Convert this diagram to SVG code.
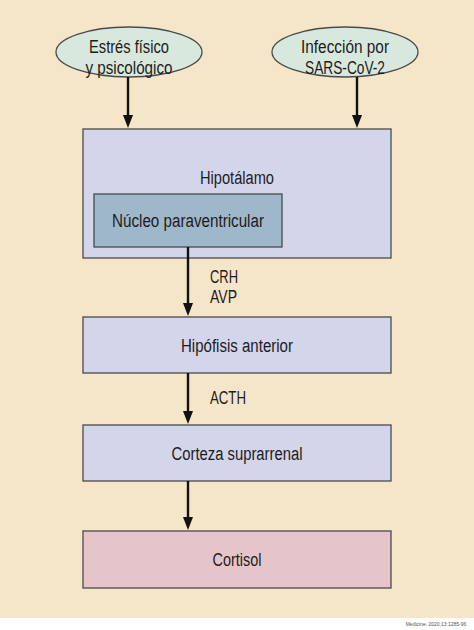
<svg xmlns="http://www.w3.org/2000/svg" width="474" height="630" viewBox="0 0 474 630">
<style>
text{font-family:"Liberation Sans",Arial,sans-serif;font-size:18px;fill:#1e1b1c;text-anchor:middle}
.lbl{text-anchor:start}
.box{fill:#d3d5ea;stroke:#4a4a4a;stroke-width:1.3}
.ell{fill:#d8e8dc;stroke:#4a4a4a;stroke-width:1.3}
.shaft{stroke:#111;stroke-width:2.4}
.head{fill:#111}
</style>
<rect x="0" y="0" width="474" height="618" fill="#f5e5c9"/>
<rect x="0" y="618" width="474" height="12" fill="#ffffff"/>
<text x="436" y="626" style="font-size:5px;fill:#555">Medicine. 2020;13:1285-96</text>
<g id="n-estres">
<ellipse class="ell" cx="129" cy="52" rx="73" ry="25"/>
<text x="129" y="53" textLength="80" lengthAdjust="spacingAndGlyphs">Estrés físico</text>
<text x="129" y="74" textLength="87" lengthAdjust="spacingAndGlyphs">y psicológico</text>
</g>
<g id="n-sars">
<ellipse class="ell" cx="345" cy="52" rx="73" ry="25"/>
<text x="345" y="53" textLength="88" lengthAdjust="spacingAndGlyphs">Infección por</text>
<text x="345" y="74" textLength="80" lengthAdjust="spacingAndGlyphs">SARS-CoV-2</text>
</g>
<g id="n-hipotalamo">
<rect class="box" x="83" y="129" width="308" height="129"/>
<text x="237" y="184" textLength="74" lengthAdjust="spacingAndGlyphs">Hipotálamo</text>
</g>
<g id="n-nucleo">
<rect x="94" y="194" width="188" height="53" fill="#9fb7ca" stroke="#4a4a4a" stroke-width="1.3"/>
<text x="188" y="227" textLength="152" lengthAdjust="spacingAndGlyphs">Núcleo paraventricular</text>
</g>
<g id="n-hipofisis">
<rect class="box" x="83" y="317" width="308" height="56"/>
<text x="237" y="352" textLength="112" lengthAdjust="spacingAndGlyphs">Hipófisis anterior</text>
</g>
<g id="n-corteza">
<rect class="box" x="83" y="425" width="308" height="56"/>
<text x="237" y="460" textLength="131" lengthAdjust="spacingAndGlyphs">Corteza suprarrenal</text>
</g>
<g id="n-cortisol">
<rect x="83" y="531" width="308" height="57" fill="#e6c5ca" stroke="#4a4a4a" stroke-width="1.3"/>
<text x="237" y="566" textLength="49" lengthAdjust="spacingAndGlyphs">Cortisol</text>
</g>
<g id="connectors">
<line class="shaft" x1="128" y1="77" x2="128" y2="117"/>
<path class="head" d="M123,115 L133,115 L128,128 Z"/>
<line class="shaft" x1="357" y1="77" x2="357" y2="117"/>
<path class="head" d="M352,115 L362,115 L357,128 Z"/>
<line class="shaft" x1="188" y1="247" x2="188" y2="305"/>
<path class="head" d="M183,303 L193,303 L188,316 Z"/>
<line class="shaft" x1="188" y1="373" x2="188" y2="413"/>
<path class="head" d="M183,411 L193,411 L188,424 Z"/>
<line class="shaft" x1="188" y1="481" x2="188" y2="519"/>
<path class="head" d="M183,517 L193,517 L188,530 Z"/>
<text class="lbl" x="210" y="283" textLength="28" lengthAdjust="spacingAndGlyphs">CRH</text>
<text class="lbl" x="210" y="303" textLength="27" lengthAdjust="spacingAndGlyphs">AVP</text>
<text class="lbl" x="210" y="404" textLength="36" lengthAdjust="spacingAndGlyphs">ACTH</text>
</g>
</svg>
